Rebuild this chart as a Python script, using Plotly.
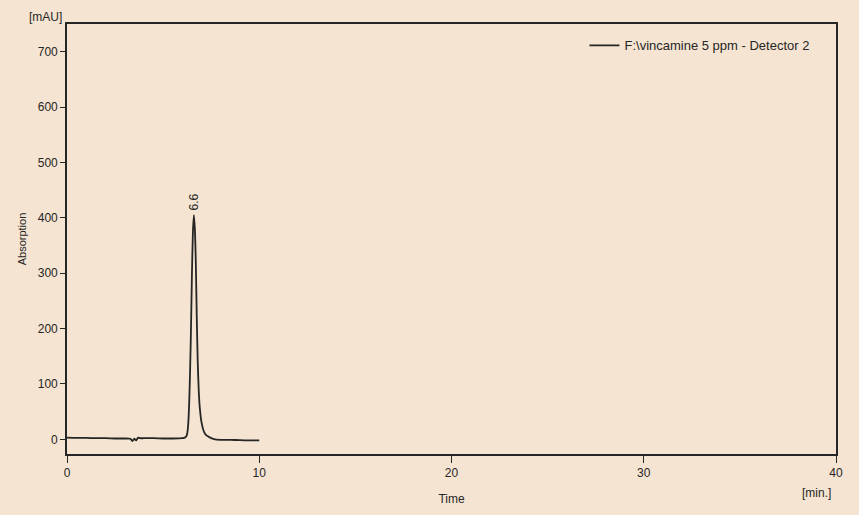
import plotly.graph_objects as go

# Chromatogram trace: retention time (min) vs absorbance (mAU)
time_min = [0.0, 0.5, 1.0, 1.5, 2.0, 2.5, 3.0, 3.3, 3.4, 3.5, 3.6, 3.7, 3.8,
            4.0, 4.5, 5.0, 5.5, 6.0, 6.1, 6.2, 6.25, 6.3, 6.35, 6.4, 6.45,
            6.5, 6.55, 6.6, 6.65, 6.7, 6.75, 6.8, 6.85, 6.9, 7.0, 7.1, 7.2,
            7.4, 7.6, 8.0, 8.5, 9.0, 9.5, 10.0]
absorbance_mau = [3, 2.5, 2.5, 2, 2, 1.5, 1.5, 1, -3, 1, -2, 3, 2,
                  2, 2, 1.5, 1.5, 2, 2.5, 5, 10, 25, 60, 120, 200,
                  300, 375, 405, 380, 320, 220, 140, 90, 60, 30, 16, 9,
                  4, 1, -1, -1, -1.5, -2, -2]

peak_time = 6.6
peak_height = 405
peak_label = "6.6"

x_ticks = [0, 10, 20, 30, 40]
y_ticks = [0, 100, 200, 300, 400, 500, 600, 700]

trace_name = "F:\\vincamine 5 ppm - Detector 2"

BG = "#F5E4D1"
INK = "#262626"
FONT = "Liberation Sans Narrow, Arial Narrow, Liberation Sans, sans-serif"

fig = go.Figure()
fig.add_trace(go.Scatter(
    x=time_min, y=absorbance_mau, mode="lines", name=trace_name,
    line=dict(color=INK, width=1.8, shape="spline", smoothing=0.6),
))

fig.add_annotation(
    x=peak_time, y=peak_height, text=peak_label, textangle=-90,
    showarrow=False, yanchor="bottom", yshift=3,
    font=dict(family=FONT, size=12, color=INK),
)

fig.add_annotation(
    xref="paper", yref="paper", x=-0.028, y=1.0, text="[mAU]",
    showarrow=False, xanchor="center", yanchor="bottom", yshift=-2,
    font=dict(family=FONT, size=12, color=INK),
)
fig.add_annotation(
    xref="paper", yref="paper", x=0.975, y=0, text="[min.]",
    showarrow=False, xanchor="center", yanchor="top", yshift=-30,
    font=dict(family=FONT, size=12, color=INK),
)

axis_common = dict(
    showgrid=False, zeroline=False, showline=True, linecolor=INK,
    linewidth=1.6, mirror=True, ticks="outside", tickcolor=INK,
    tickfont=dict(family=FONT, size=12, color=INK),
)

fig.update_layout(
    width=859, height=515,
    paper_bgcolor=BG, plot_bgcolor=BG,
    margin=dict(l=67, r=23, t=24, b=61),
    font=dict(family=FONT, size=12, color=INK),
    showlegend=True,
    legend=dict(
        x=0.972, y=0.985, xanchor="right", yanchor="top",
        bgcolor="rgba(0,0,0,0)", borderwidth=0,
        font=dict(family=FONT, size=13, color=INK),
    ),
    xaxis=dict(
        range=[0, 40], tickvals=x_ticks, ticklen=7, tickwidth=1.4,
        title=dict(text="Time", standoff=15,
                   font=dict(family=FONT, size=12, color=INK)),
        **axis_common,
    ),
    yaxis=dict(
        range=[-26.5, 750], tickvals=y_ticks, ticklen=5, tickwidth=1.4,
        title=dict(text="Absorption", standoff=9,
                   font=dict(family=FONT, size=11, color=INK)),
        **axis_common,
    ),
)

fig.write_html("out.html")
